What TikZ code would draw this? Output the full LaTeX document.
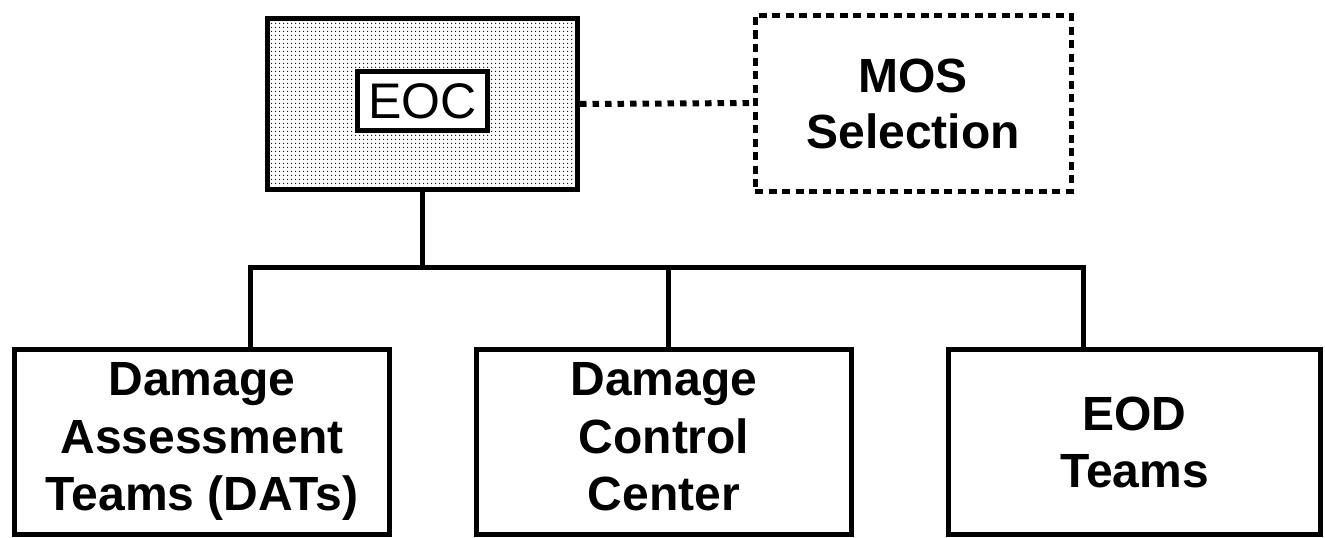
\documentclass[tikz,border=0pt]{standalone}
\usepackage{fontspec}
\setmainfont{Liberation Sans}
\usetikzlibrary{patterns}
\pgfdeclarepatternformonly{stipple}{\pgfpointorigin}{\pgfpoint{3.6pt}{3.6pt}}{\pgfpoint{3.6pt}{3.6pt}}{\pgfpathcircle{\pgfpoint{1.8pt}{1.8pt}}{0.75pt}\pgfusepath{fill}}
\tikzset{
  box/.style={draw, rectangle, line width=5pt, inner sep=0pt, align=center, fill=white,
    font=\fontsize{48}{57.5}\selectfont\bfseries},
  dotbox/.style={draw, rectangle, line width=5pt, inner sep=0pt, align=center,
    dash pattern=on 8pt off 5.5pt, font=\fontsize{48}{56}\selectfont\bfseries},
  conn/.style={line width=5pt},
  dotconn/.style={line width=6pt, dash pattern=on 6.5pt off 6pt}
}
\begin{document}
\begin{tikzpicture}[x=1pt,y=-1pt]
\useasboundingbox (0,0) rectangle (1325,538);
\node[draw, rectangle, line width=5pt, pattern=stipple, minimum width=310pt, minimum height=171pt, inner sep=0pt] (eoc) at (422.5,104) {};
\node[draw, rectangle, line width=5pt, fill=white, minimum width=130pt, minimum height=59pt, inner sep=0pt, font=\fontsize{50}{60}\selectfont] (eoclabel) at (422.5,101) {EOC};
\node[dotbox, minimum width=316pt, minimum height=176pt] (mos) at (913,103) {\rule{0pt}{50.8pt}MOS\\Selection\strut};
\node[box, minimum width=375pt, minimum height=185pt] (b1) at (202,441.5) {\strut Damage\\Assessment\\Teams (DATs)\strut};
\node[box, minimum width=375pt, minimum height=185pt] (b2) at (664,441.5) {\strut Damage\\Control\\Center\strut};
\node[box, minimum width=372pt, minimum height=185pt] (b3) at (1134.5,441.5) {\rule{0pt}{52pt}EOD\\Teams\strut};
\coordinate (d1) at (250,267);
\coordinate (d2) at (668,267);
\coordinate (d3) at (1083,267);
\draw[conn] (eoc.south) -- (eoc.south |- d1);
\draw[conn, line cap=rect] (d1) -- (d3);
\draw[conn] (d1) -- (d1 |- b1.north);
\draw[conn] (d2) -- (d2 |- b2.north);
\draw[conn] (d3) -- (d3 |- b3.north);
\draw[dotconn] (eoc.east) -- (mos.west);
\end{tikzpicture}
\end{document}
